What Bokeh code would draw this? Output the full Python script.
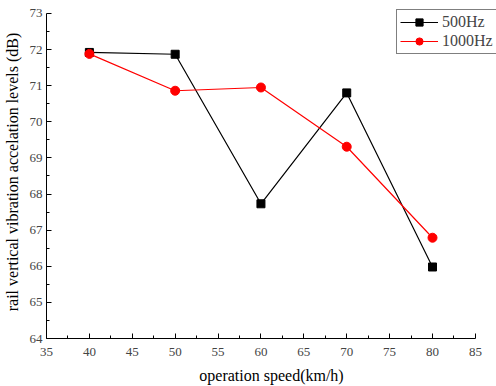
from bokeh.plotting import figure
from bokeh.models import Range1d, FixedTicker, Legend, LegendItem
from bokeh.embed import file_html
from bokeh.resources import INLINE

speeds = [40, 50, 60, 70, 80]
hz500 = [71.92, 71.87, 67.73, 70.80, 65.98]
hz1000 = [71.88, 70.86, 70.95, 69.31, 66.79]
x_ticks = [35, 40, 45, 50, 55, 60, 65, 70, 75, 80, 85]
y_ticks = [64, 65, 66, 67, 68, 69, 70, 71, 72, 73]

FONT = "Liberation Serif"

p = figure(width=496, height=386, output_backend="svg", toolbar_location=None,
           x_range=Range1d(35, 87.46), y_range=Range1d(64, 73.22),
           min_border_left=0, min_border_right=0, min_border_top=5, min_border_bottom=0)
p.outline_line_color = None
p.grid.visible = False

for ax in (p.xaxis[0], p.yaxis[0]):
    ax.major_tick_in = 5
    ax.major_tick_out = 0
    ax.minor_tick_in = 3
    ax.minor_tick_out = 0
    ax.axis_line_color = "black"
    ax.major_tick_line_color = "black"
    ax.minor_tick_line_color = "black"
    ax.major_label_text_font = FONT
    ax.major_label_text_font_size = "13px"
    ax.major_label_text_color = "#444444"
    ax.axis_label_text_font = FONT
    ax.axis_label_text_font_size = "16px"
    ax.axis_label_text_font_style = "normal"
    ax.axis_label_text_color = "black"

p.xaxis.bounds = (35, 85)
p.yaxis.bounds = (64, 73)
p.xaxis.ticker = FixedTicker(ticks=x_ticks, minor_ticks=[v + 2.5 for v in x_ticks[:-1]])
p.yaxis.ticker = FixedTicker(ticks=y_ticks, minor_ticks=[v + 0.5 for v in y_ticks[:-1]])
p.xaxis.axis_label = "operation speed(km/h)"
p.yaxis.axis_label = "rail vertical vibration accelation levels (dB)"
p.xaxis.axis_label_standoff = 8
p.yaxis.axis_label_standoff = 6
p.xaxis.major_label_standoff = 9
p.yaxis.major_label_standoff = 4

l1 = p.line(speeds, hz500, line_color="black", line_width=1.2)
s1 = p.scatter(speeds, hz500, marker="square", size=8, fill_color="black", line_color="black")
l2 = p.line(speeds, hz1000, line_color="red", line_width=1.2)
s2 = p.scatter(speeds, hz1000, marker="circle", size=9, fill_color="red", line_color="red")

legend = Legend(items=[LegendItem(label="500Hz", renderers=[l1, s1]),
                       LegendItem(label="1000Hz", renderers=[l2, s2])],
                location=(350, 284))
legend.label_text_font = FONT
legend.label_text_font_size = "16px"
legend.border_line_color = "black"
legend.border_line_width = 1
legend.padding = 3
legend.spacing = 1
legend.glyph_width = 38
legend.glyph_height = 18
legend.label_standoff = 4
legend.label_height = 18
legend.margin = 0
legend.background_fill_alpha = 1
p.add_layout(legend, "center")

open("out.html", "w").write(file_html(p, INLINE))
